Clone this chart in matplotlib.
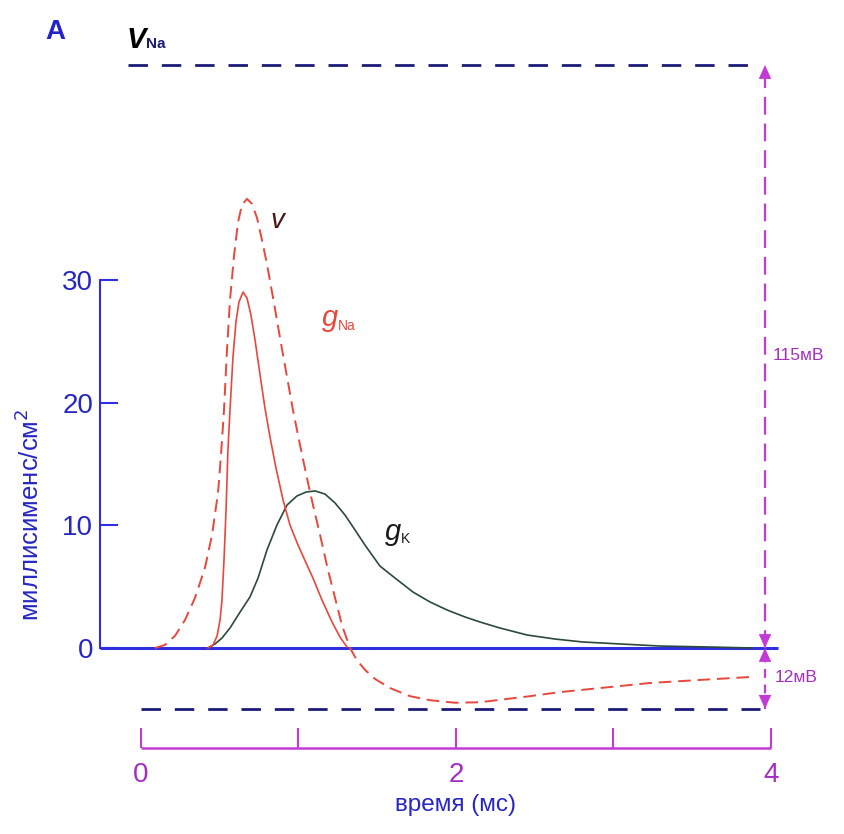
import matplotlib
matplotlib.use("Agg")
import matplotlib.pyplot as plt

plt.rcParams["font.family"] = ["Liberation Sans", "DejaVu Sans"]

# membrane potential v (mV above rest) against time (ms)
t_v = [0.089, 0.152, 0.216, 0.279, 0.343, 0.406, 0.451, 0.489, 0.508, 0.527,
       0.546, 0.565, 0.591, 0.616, 0.641, 0.673, 0.705, 0.737, 0.768, 0.800,
       0.832, 0.863, 0.895, 0.927, 0.965, 1.010, 1.054, 1.092, 1.137, 1.187,
       1.232, 1.276, 1.327, 1.371, 1.422, 1.486, 1.581, 1.708, 1.835, 1.994,
       2.152, 2.311, 2.470, 2.660, 2.914, 3.232, 3.549, 3.879]
v_mv = [0.0, 0.6, 2.4, 5.5, 9.9, 15.8, 22.3, 30.6, 38.1, 46.9,
        58.8, 68.6, 77.5, 84.0, 87.4, 88.6, 87.6, 84.8, 80.5, 75.7,
        70.2, 64.7, 59.0, 53.5, 46.9, 40.0, 33.5, 28.2, 22.3, 15.4,
        9.9, 4.5, 0.0, -2.4, -4.3, -6.1, -7.9, -9.5, -10.3, -10.8,
        -10.7, -10.1, -9.5, -8.7, -7.9, -6.9, -6.3, -5.7]

# sodium conductance (mS/cm2)
t_na = [0.425, 0.457, 0.483, 0.502, 0.514, 0.527, 0.540, 0.552, 0.565, 0.584,
        0.603, 0.622, 0.648, 0.673, 0.698, 0.724, 0.756, 0.787, 0.819, 0.857,
        0.902, 0.946, 0.997, 1.048, 1.092, 1.149, 1.213, 1.263, 1.308]
g_na = [0.0, 0.24, 0.98, 2.28, 3.91, 7.17, 11.25, 16.14, 19.40, 23.72,
        26.57, 28.20, 29.01, 28.52, 27.14, 25.10, 22.25, 19.56, 17.20, 14.67,
        12.06, 10.02, 8.39, 6.93, 5.70, 3.91, 2.12, 0.90, 0.08]

# potassium conductance (mS/cm2)
t_k = [0.425, 0.470, 0.514, 0.565, 0.629, 0.692, 0.743, 0.800, 0.863, 0.927,
       0.990, 1.048, 1.105, 1.168, 1.232, 1.295, 1.359, 1.422, 1.517, 1.613,
       1.727, 1.835, 1.943, 2.057, 2.152, 2.279, 2.451, 2.629, 2.806, 3.041,
       3.295, 3.613, 3.879]
g_k = [0.0, 0.33, 0.81, 1.63, 2.93, 4.16, 5.70, 7.99, 10.02, 11.65,
       12.39, 12.71, 12.80, 12.55, 11.82, 10.84, 9.62, 8.39, 6.68, 5.70,
       4.56, 3.75, 3.10, 2.53, 2.12, 1.63, 1.06, 0.73, 0.49, 0.33,
       0.16, 0.08, 0.0]

V_NA = 115      # mV above rest
V_K = -12       # mV below rest
y_ticks = [0, 10, 20, 30]
t_ticks = [0, 1, 2, 3, 4]
t_labels = ["0", "", "2", "", "4"]

BLUE = "#2f2fe0"
NAVY = "#1c1c78"
MAG = "#c43ad6"
MAG_TXT = "#a52cc0"
RED = "#e8473c"
GREEN = "#2b4a3c"
TXT_BLUE = "#2626c4"

W, H = 845, 834
PX_T = 157.5          # pixels per ms
PX_G = 12.27          # pixels per mS/cm2
X0, Y0 = 141, 648     # pixel of t=0, g=0
MV_PER_G = V_NA / ((Y0 - 65) / PX_G)

fig = plt.figure(figsize=(W / 100, H / 100), dpi=100)
ax = fig.add_axes([0, 0, 1, 1])
ax.set_xlim(-X0 / PX_T, (W - X0) / PX_T)
ax.set_ylim((Y0 - H) / PX_G, Y0 / PX_G)
ax2 = ax.twinx()
ax2.set_position([0, 0, 1, 1])
ax2.set_ylim(ax.get_ylim()[0] * MV_PER_G, ax.get_ylim()[1] * MV_PER_G)

for a in (ax, ax2):
    for s in a.spines.values():
        s.set_visible(False)
ax2.set_yticks([])
ax.set_xticks([])

# left conductance axis
x_spine = (100 - X0) / PX_T
ax.spines["left"].set_visible(True)
ax.spines["left"].set_position(("data", x_spine))
ax.spines["left"].set_bounds(0, 30)
ax.spines["left"].set_color(BLUE)
ax.spines["left"].set_linewidth(1.5)
ax.set_yticks(y_ticks)
ax.tick_params(axis="y", direction="in", length=13, width=1.5, color=BLUE,
               labelcolor=TXT_BLUE, labelsize=20, pad=5)

# rest line
ax.hlines(0, x_spine, (778 - X0) / PX_T, color=BLUE, lw=2.2, zorder=1)

# curves
ax.plot(t_k, g_k, color=GREEN, lw=1.2, zorder=3)
ax.plot(t_na, g_na, color=RED, lw=1.2, zorder=3)
ax2.plot(t_v, v_mv, color=RED, lw=1.4, dashes=(6.5, 3.5), zorder=3)

# reversal potentials
t_end = (760 - X0) / PX_T
ax2.hlines(V_NA, (128 - X0) / PX_T, t_end, color=NAVY, lw=2, linestyles=(0, (7, 5)))
ax2.hlines(V_K, 0, t_end, color=NAVY, lw=2, linestyles=(0, (7, 5)))

# magenta double arrows
t_arr = (765 - X0) / PX_T
ax2.vlines(t_arr, 0, V_NA, color=MAG, lw=1.6, linestyles=(0, (8, 4)))
ax2.vlines(t_arr, V_K, 0, color=MAG, lw=1.6, linestyles=(0, (4, 3)))
head = dict(arrowstyle="-|>,head_length=1.0,head_width=0.45", color=MAG, lw=0.01,
            shrinkA=0, shrinkB=0)
for tip, tail in [(V_NA, V_NA - 8), (0, 8), (0, -8), (V_K, V_K + 7)]:
    ax2.annotate("", xy=(t_arr, tip), xytext=(t_arr, tail), arrowprops=head)
fig.text(773 / W, 1 - 355 / H, "115мВ", color=MAG_TXT, fontsize=12.5, va="center")
fig.text(775 / W, 1 - 678 / H, "12мВ", color=MAG_TXT, fontsize=12.5, va="center")

# time axis
g_ax = (Y0 - 748) / PX_G
ax.hlines(g_ax, 0, 4, color=MAG, lw=1.8)
ax.vlines(t_ticks, g_ax, (Y0 - 728) / PX_G, color=MAG, lw=1.5)
for t, lab in zip(t_ticks, t_labels):
    ax.text(t, (Y0 - 775) / PX_G, lab, color=MAG_TXT, fontsize=20,
            ha="center", va="center")
ax.text(2, (Y0 - 805) / PX_G, "время (мс)", color=TXT_BLUE, fontsize=17.5,
        ha="center", va="center")
ax.text((30 - X0) / PX_T, (Y0 - 515) / PX_G, "миллисименс/см$^{2}$",
        color=TXT_BLUE, fontsize=18.5, rotation=90, ha="center", va="center")

# labels
fig.text(55 / W, 1 - 32 / H, "A", color="#2323c8", fontsize=20, weight="bold",
         ha="center", va="center")
fig.text(127 / W, 1 - 48 / H, "V", color="black", fontsize=21, style="italic",
         weight="bold", va="baseline")
fig.text(146 / W, 1 - 48 / H, "Na", color=NAVY, fontsize=11, weight="bold", va="baseline")
fig.text(277 / W, 1 - 221 / H, "v", color="#4a1410", fontsize=20, style="italic",
         ha="center", va="center")
fig.text(322 / W, 1 - 326 / H, "g", color=RED, fontsize=21, style="italic", va="baseline")
fig.text(338 / W, 1 - 330 / H, "Na", color=RED, fontsize=10, va="baseline")
fig.text(385 / W, 1 - 540 / H, "g", color="#1a1a1a", fontsize=21, style="italic", va="baseline")
fig.text(401 / W, 1 - 543 / H, "K", color="#1a1a1a", fontsize=10, va="baseline")

fig.savefig("out.png", dpi=100)
